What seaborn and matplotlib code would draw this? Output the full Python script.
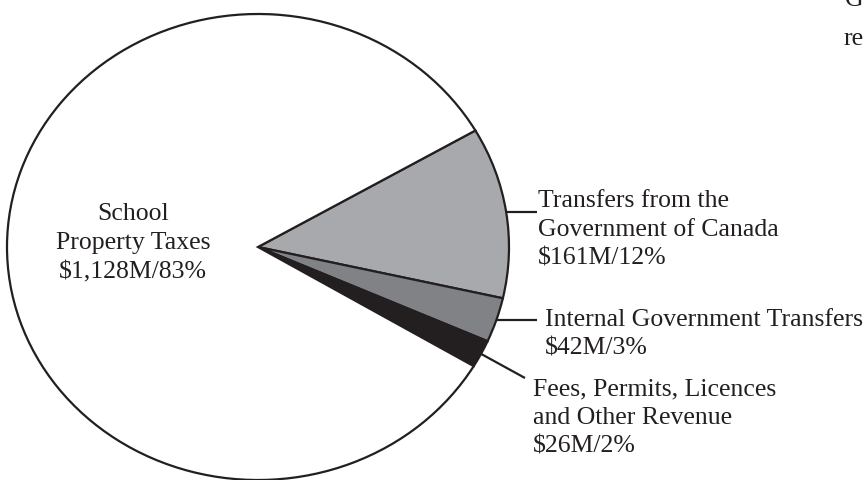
import matplotlib
matplotlib.use("Agg")
import matplotlib.pyplot as plt
import numpy as np
import seaborn as sns

# Revenue sources (millions of dollars)
categories = [
    "Transfers from the\nGovernment of Canada",
    "Internal Government Transfers",
    "Fees, Permits, Licences\nand Other Revenue",
    "School\nProperty Taxes",
]
amounts = [161, 42, 26, 1128]
percents = [12, 3, 2, 83]
colors = ["#a7a9ac", "#808285", "#231f20", "#ffffff"]

sns.set_theme(style="white")
plt.rcParams["font.family"] = ["Liberation Serif", "DejaVu Serif"]

ink = "#231f20"
W, H = 865, 480
# pie centre and radii in pixels (the pie is slightly squashed in the original)
CX, CY, RX, RY = 258, 247, 251, 233


def px(x, y):
    # pixel position (from top-left) -> data coordinates of the pie axes
    return (x - CX) / RX, (CY - y) / RY


fig = plt.figure(figsize=(W / 100, H / 100), dpi=100)
ax = fig.add_axes([0, 0, 1, 1])

wedges, _ = ax.pie(
    amounts,
    colors=colors,
    startangle=30,
    counterclock=False,
    wedgeprops=dict(edgecolor=ink, linewidth=1.6),
)
ax.set_xlim(px(0, 0)[0], px(W, 0)[0])
ax.set_ylim(px(0, H)[1], px(0, 0)[1])
ax.set_aspect("auto")
ax.axis("off")


def rim(w):
    mid = np.deg2rad((w.theta1 + w.theta2) / 2)
    return np.cos(mid), np.sin(mid)


labels = [f"{c}\n${a:,}M/{p}%" for c, a, p in zip(categories, amounts, percents)]
fs = 18.5
ls = 1.4

# big slice label inside the pie (y = baseline of the last line)
x, y = px(133, 278)
ax.text(x, y, labels[3], ha="center", va="baseline", fontsize=fs,
        color=ink, linespacing=ls, multialignment="center")

# Transfers from the Government of Canada: horizontal leader
x0, y0 = rim(wedges[0])
tx, ty = px(538, 265)
ax.plot([x0, tx - 0.004], [y0, y0], color=ink, lw=1.6, solid_capstyle="butt")
ax.text(tx, ty, labels[0], ha="left", va="baseline", fontsize=fs,
        color=ink, linespacing=ls)

# Internal Government Transfers: horizontal leader
x0, y0 = rim(wedges[1])
tx, ty = px(545, 355)
ax.plot([x0, px(537, 0)[0]], [y0, y0], color=ink, lw=1.6, solid_capstyle="butt")
ax.text(tx, ty, labels[1], ha="left", va="baseline", fontsize=fs,
        color=ink, linespacing=ls)

# Fees, Permits, Licences: diagonal leader
x0, y0 = rim(wedges[2])
ex, ey = px(525, 378)
ax.plot([x0, ex], [y0, ey], color=ink, lw=1.6, solid_capstyle="butt")
tx, ty = px(533, 453)
ax.text(tx, ty, labels[2], ha="left", va="baseline", fontsize=fs,
        color=ink, linespacing=ls)

# cut-off text from the neighbouring column of the page
fig.text(845 / W, 1 - 6 / H, "G", ha="left", va="baseline", fontsize=fs, color=ink)
fig.text(844 / W, 1 - 45 / H, "re", ha="left", va="baseline", fontsize=fs, color=ink)

fig.savefig("out.png", dpi=100, facecolor="white")
